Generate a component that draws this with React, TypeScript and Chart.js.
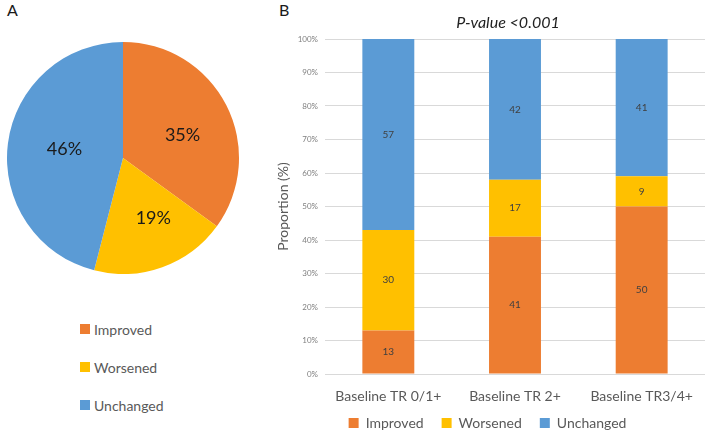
import React, { useEffect, useRef } from "react";
import { Chart, registerables } from "chart.js";

Chart.register(...registerables);

// ---- Data ----
const pieLabels = ["Improved", "Worsened", "Unchanged"];
const pieValues = [35, 19, 46];

const barCategories = ["Baseline TR 0/1+", "Baseline TR 2+", "Baseline TR3/4+"];
const improvedValues = [13, 41, 50];
const worsenedValues = [30, 17, 9];
const unchangedValues = [57, 42, 41];
const yTickValues = [0, 10, 20, 30, 40, 50, 60, 70, 80, 90, 100];

const titleText = "P-value <0.001";
const yAxisTitle = "Proportion (%)";

const COLORS = ["#ED7D31", "#FFC000", "#5B9BD5"];
const FONT = "Lato, 'Open Sans', sans-serif";

// label placement (radius factor, angle shift in degrees) per slice
const pieLabelFactors = [0.55, 0.58, 0.51];
const pieLabelShift = [6, -7, 1];

const pieLabelPlugin = {
  id: "pieLabels",
  afterDatasetsDraw(chart: any) {
    const ctx = chart.ctx;
    const meta = chart.getDatasetMeta(0);
    ctx.save();
    ctx.font = `18px ${FONT}`;
    ctx.fillStyle = "#1a1a1a";
    ctx.textAlign = "center";
    ctx.textBaseline = "middle";
    meta.data.forEach((arc: any, i: number) => {
      const p = arc.getProps(["x", "y", "startAngle", "endAngle", "outerRadius"], true);
      const mid = (p.startAngle + p.endAngle) / 2 + (pieLabelShift[i] * Math.PI) / 180;
      const r = p.outerRadius * pieLabelFactors[i];
      ctx.fillText(pieValues[i] + "%", p.x + Math.cos(mid) * r, p.y + Math.sin(mid) * r);
    });
    ctx.restore();
  },
};

const barLabelPlugin = {
  id: "barLabels",
  beforeDraw(chart: any) {
    // don't clip x tick labels to the (short) x-axis box
    const x = chart.scales.x;
    if (x) {
      x._computeLabelArea = () => undefined;
      x._labelArea = undefined;
    }
  },
  afterDatasetsDraw(chart: any) {
    const ctx = chart.ctx;
    ctx.save();
    ctx.font = `10px ${FONT}`;
    ctx.fillStyle = "#404040";
    ctx.textAlign = "center";
    ctx.textBaseline = "middle";
    chart.data.datasets.forEach((ds: any, di: number) => {
      const meta = chart.getDatasetMeta(di);
      meta.data.forEach((bar: any, i: number) => {
        const p = bar.getProps(["x", "y", "base"], true);
        ctx.fillText(String(ds.data[i]), p.x, (p.y + p.base) / 2);
      });
    });
    // title
    ctx.font = `italic 16px ${FONT}`;
    ctx.fillStyle = "#222222";
    ctx.fillText(titleText, 238, 23);
    ctx.restore();
  },
};

export default function App() {
  const pieRef = useRef<HTMLCanvasElement>(null);
  const barRef = useRef<HTMLCanvasElement>(null);

  useEffect(() => {
    const pie = new Chart(pieRef.current!, {
      type: "pie",
      data: {
        labels: pieLabels,
        datasets: [
          {
            data: pieValues,
            backgroundColor: COLORS,
            borderWidth: 0,
          },
        ],
      },
      options: {
        responsive: false,
        animation: false,
        layout: { padding: 0 },
        plugins: { legend: { display: false }, tooltip: { enabled: false } },
      },
      plugins: [pieLabelPlugin],
    });

    const bar = new Chart(barRef.current!, {
      type: "bar",
      data: {
        labels: barCategories,
        datasets: [
          { label: "Improved", data: improvedValues, backgroundColor: COLORS[0] },
          { label: "Worsened", data: worsenedValues, backgroundColor: COLORS[1] },
          { label: "Unchanged", data: unchangedValues, backgroundColor: COLORS[2] },
        ],
      },
      options: {
        responsive: false,
        animation: false,
        layout: { padding: { top: 39, right: 4, left: 0, bottom: 0 } },
        datasets: { bar: { barPercentage: 0.41, categoryPercentage: 1 } },
        scales: {
          x: {
            stacked: true,
            grid: { display: false, drawTicks: false },
            border: { display: false },
            ticks: { font: { family: FONT, size: 14 }, color: "#595959", padding: 14, maxRotation: 0 },
            afterFit: (s: any) => {
              s.height = 24;
            },
          },
          y: {
            stacked: true,
            min: 0,
            max: 100,
            afterBuildTicks: (s: any) => {
              s.ticks = yTickValues.map((v) => ({ value: v }));
            },
            grid: { color: "#d9d9d9", drawTicks: false, lineWidth: 1 },
            border: { display: false },
            ticks: {
              font: { family: FONT, size: 8 },
              color: "#7f7f7f",
              padding: 7,
              callback: (v: any) => v + "%",
            },
            title: {
              display: true,
              text: yAxisTitle,
              font: { family: FONT, size: 14 },
              color: "#595959",
              padding: { top: 5, bottom: 0 },
            },
            afterFit: (s: any) => {
              s.width = 55;
            },
          },
        },
        plugins: {
          legend: {
            position: "bottom",
            labels: {
              boxWidth: 10,
              boxHeight: 10,
              padding: 18,
              font: { family: FONT, size: 14 },
              color: "#595959",
            },
          },
          tooltip: { enabled: false },
        },
      },
      plugins: [barLabelPlugin],
    });

    return () => {
      pie.destroy();
      bar.destroy();
    };
  }, []);

  const legendItemStyle = (top: number): React.CSSProperties => ({
    position: "absolute",
    left: 80,
    top: top - 9,
    height: 18,
    display: "flex",
    alignItems: "center",
    fontFamily: FONT,
    fontSize: 14,
    color: "#595959",
    whiteSpace: "nowrap",
  });

  const letterStyle = (left: number): React.CSSProperties => ({
    position: "absolute",
    left,
    top: 0,
    fontFamily: FONT,
    fontSize: 16,
    color: "#1a1a1a",
    lineHeight: "20px",
  });

  return (
    <div
      style={{
        position: "absolute",
        left: 0,
        top: 0,
        width: 709,
        height: 434,
        overflow: "hidden",
        background: "#fff",
      }}
    >
      <span style={letterStyle(7)}>A</span>
      <span style={letterStyle(279)}>B</span>
      <canvas
        ref={pieRef}
        width={246}
        height={232}
        style={{ position: "absolute", left: 0, top: 42, width: 246, height: 232 }}
      />
      {pieLabels.map((l, i) => (
        <div key={l} style={legendItemStyle([329, 367, 405][i])}>
          <span style={{ display: "inline-block", width: 10, height: 10, background: COLORS[i], marginRight: 4 }} />
          {l}
        </div>
      ))}
      <canvas
        ref={barRef}
        width={439}
        height={440}
        style={{ position: "absolute", left: 270, top: 0, width: 439, height: 440 }}
      />
    </div>
  );
}
